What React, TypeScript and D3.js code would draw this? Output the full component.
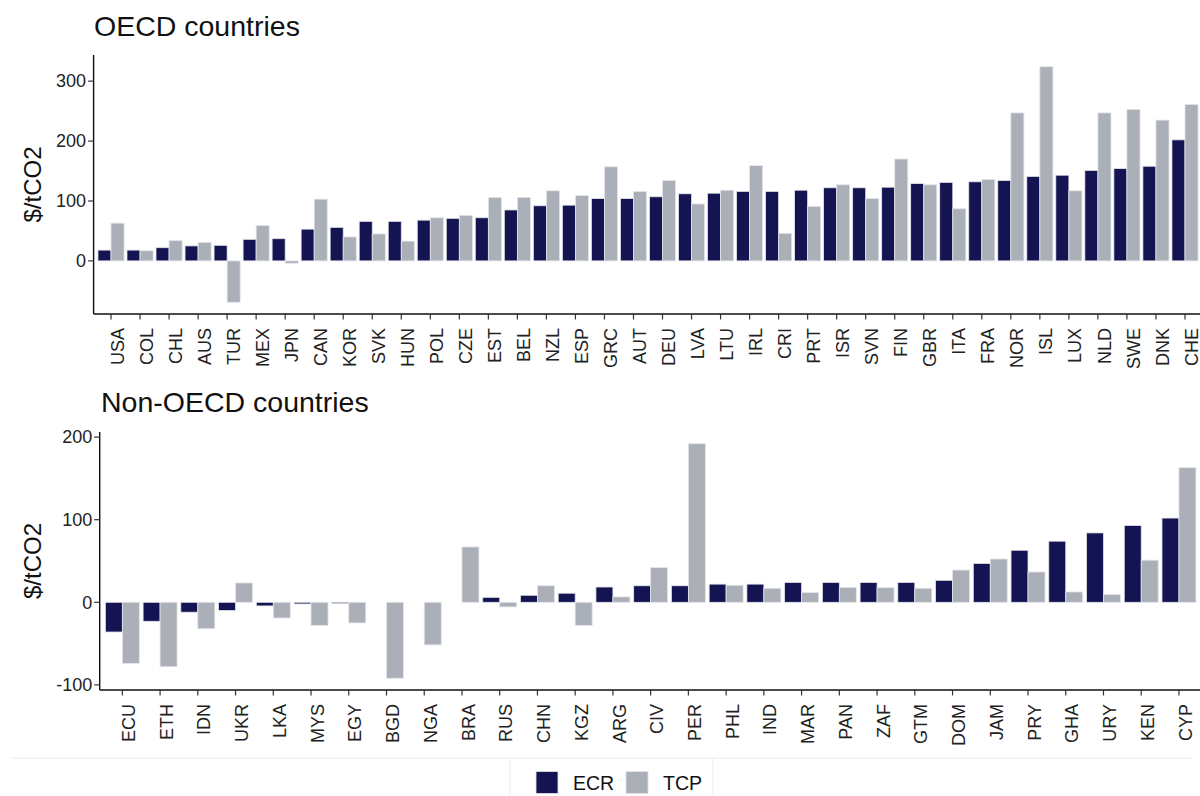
import React from "react";
import * as d3 from "d3";

const oecdCountries = ["USA","COL","CHL","AUS","TUR","MEX","JPN","CAN","KOR","SVK","HUN","POL","CZE","EST","BEL","NZL","ESP","GRC","AUT","DEU","LVA","LTU","IRL","CRI","PRT","ISR","SVN","FIN","GBR","ITA","FRA","NOR","ISL","LUX","NLD","SWE","DNK","CHE"];
const oecdECR = [18,18,22,25,26,36,37,53,56,66,66,68,71,72,85,92,93,104,104,107,112,113,116,116,118,122,122,123,129,131,132,134,141,143,151,154,158,202];
const oecdTCP = [63,17,34,31,-69,59,-4,103,40,45,33,72,76,106,106,117,109,157,116,134,95,118,159,46,91,127,104,170,127,87,136,247,324,117,247,253,235,261];

const nonCountries = ["ECU","ETH","IDN","UKR","LKA","MYS","EGY","BGD","NGA","BRA","RUS","CHN","KGZ","ARG","CIV","PER","PHL","IND","MAR","PAN","ZAF","GTM","DOM","JAM","PRY","GHA","URY","KEN","CYP"];
const nonECR = [-36,-23,-12,-10,-4.4,-2,-1.6,0,0,0,6,8.5,11,18.5,20,20,22,22,24,24,24,24,26.6,47,63,74,84,93,102];
const nonTCP = [-74,-78,-32,23.4,-19,-28,-25,-92,-51.6,67,-5.6,20,-28,6.5,42,192,20.6,17,11.7,18,17.7,17,39,52.4,36.7,12.5,9.3,51,163];

const seriesNames = ["ECR", "TCP"];
const colors = ["#141452", "#abafb8"];
const FONT = "'Liberation Sans', Arial, Helvetica, sans-serif";

type PanelProps = {
  title: string;
  titleX: number;
  titleY: number;
  countries: string[];
  ecr: number[];
  tcp: number[];
  left: number;
  right: number;
  top: number;
  bottom: number;
  ticks: number[];
};

function Panel({ title, titleX, titleY, countries, ecr, tcp, left, right, top, bottom, ticks }: PanelProps) {
  const all = [...ecr, ...tcp, 0];
  const mn = d3.min(all) as number;
  const mx = d3.max(all) as number;
  const pad = (mx - mn) * 0.05;
  const y = d3.scaleLinear().domain([mn - pad, mx + pad]).range([bottom, top]);
  const x = d3.scalePoint<string>().domain(countries).range([left, right]).padding(0.6);
  const step = x.step();
  const bw = step * 0.45;
  const y0 = y(0);
  const bars: JSX.Element[] = [];
  countries.forEach((c, i) => {
    const cx = x(c) as number;
    [ecr[i], tcp[i]].forEach((v, j) => {
      if (v === 0) return;
      const yv = y(v);
      bars.push(
        <rect key={c + j} x={cx - bw + j * bw} y={Math.min(yv, y0)} width={bw} height={Math.abs(yv - y0)}
          fill={colors[j]} stroke="#e4e4ea" strokeWidth={0.8} />
      );
    });
  });
  const yMid = (top + bottom) / 2;
  return (
    <g>
      <text x={titleX} y={titleY} fontSize={28.5} fill="#111" fontFamily={FONT}>{title}</text>
      {bars}
      <line x1={left} x2={left} y1={top} y2={bottom} stroke="#111" strokeWidth={1.4} />
      <line x1={left} x2={1200} y1={bottom} y2={bottom} stroke="#111" strokeWidth={1.4} />
      {ticks.map((t) => (
        <g key={t}>
          <line x1={left - 5.5} x2={left} y1={y(t)} y2={y(t)} stroke="#333" strokeWidth={1.2} />
          <text x={left - 7.5} y={y(t)} dy="0.35em" textAnchor="end" fontSize={18} fill="#222" fontFamily={FONT}>{t}</text>
        </g>
      ))}
      {countries.map((c) => {
        const cx = x(c) as number;
        return (
          <g key={c}>
            <line x1={cx} x2={cx} y1={bottom} y2={bottom + 5.5} stroke="#333" strokeWidth={1.2} />
            <text transform={`translate(${cx},${bottom + 14}) rotate(-90)`} dy={12.6} textAnchor="end"
              fontSize={18} fill="#222" fontFamily={FONT}>{c}</text>
          </g>
        );
      })}
      <text transform={`translate(40.5,${yMid}) rotate(-90)`} textAnchor="middle" fontSize={24} fill="#111" fontFamily={FONT}>$/tCO2</text>
    </g>
  );
}

export default function App() {
  return (
    <svg width={1200} height={796} style={{ position: "absolute", left: 0, top: 0, background: "#fff" }}>
      <rect x={0} y={0} width={1200} height={796} fill="#fff" />
      <Panel title="OECD countries" titleX={94} titleY={36} countries={oecdCountries} ecr={oecdECR} tcp={oecdTCP}
        left={93.6} right={1202.4} top={55} bottom={314} ticks={[0, 100, 200, 300]} />
      <Panel title="Non-OECD countries" titleX={101} titleY={411.5} countries={nonCountries} ecr={nonECR} tcp={nonTCP}
        left={99.7} right={1201.6} top={432} bottom={690} ticks={[-100, 0, 100, 200]} />
      <line x1={10} x2={1192} y1={758} y2={758} stroke="#ececec" strokeWidth={1} />
      <line x1={510} x2={510} y1={758} y2={796} stroke="#ececec" strokeWidth={1} />
      <line x1={713} x2={713} y1={758} y2={796} stroke="#ececec" strokeWidth={1} />
      {seriesNames.map((s, i) => (
        <g key={s} transform={`translate(${536 + i * 90},771.5)`}>
          <rect x={0} y={0} width={22} height={22} fill={colors[i]} stroke="#e4e4ea" strokeWidth={0.8} />
          <text x={37} y={18} fontSize={19.5} fill="#111" fontFamily={FONT}>{s}</text>
        </g>
      ))}
    </svg>
  );
}
